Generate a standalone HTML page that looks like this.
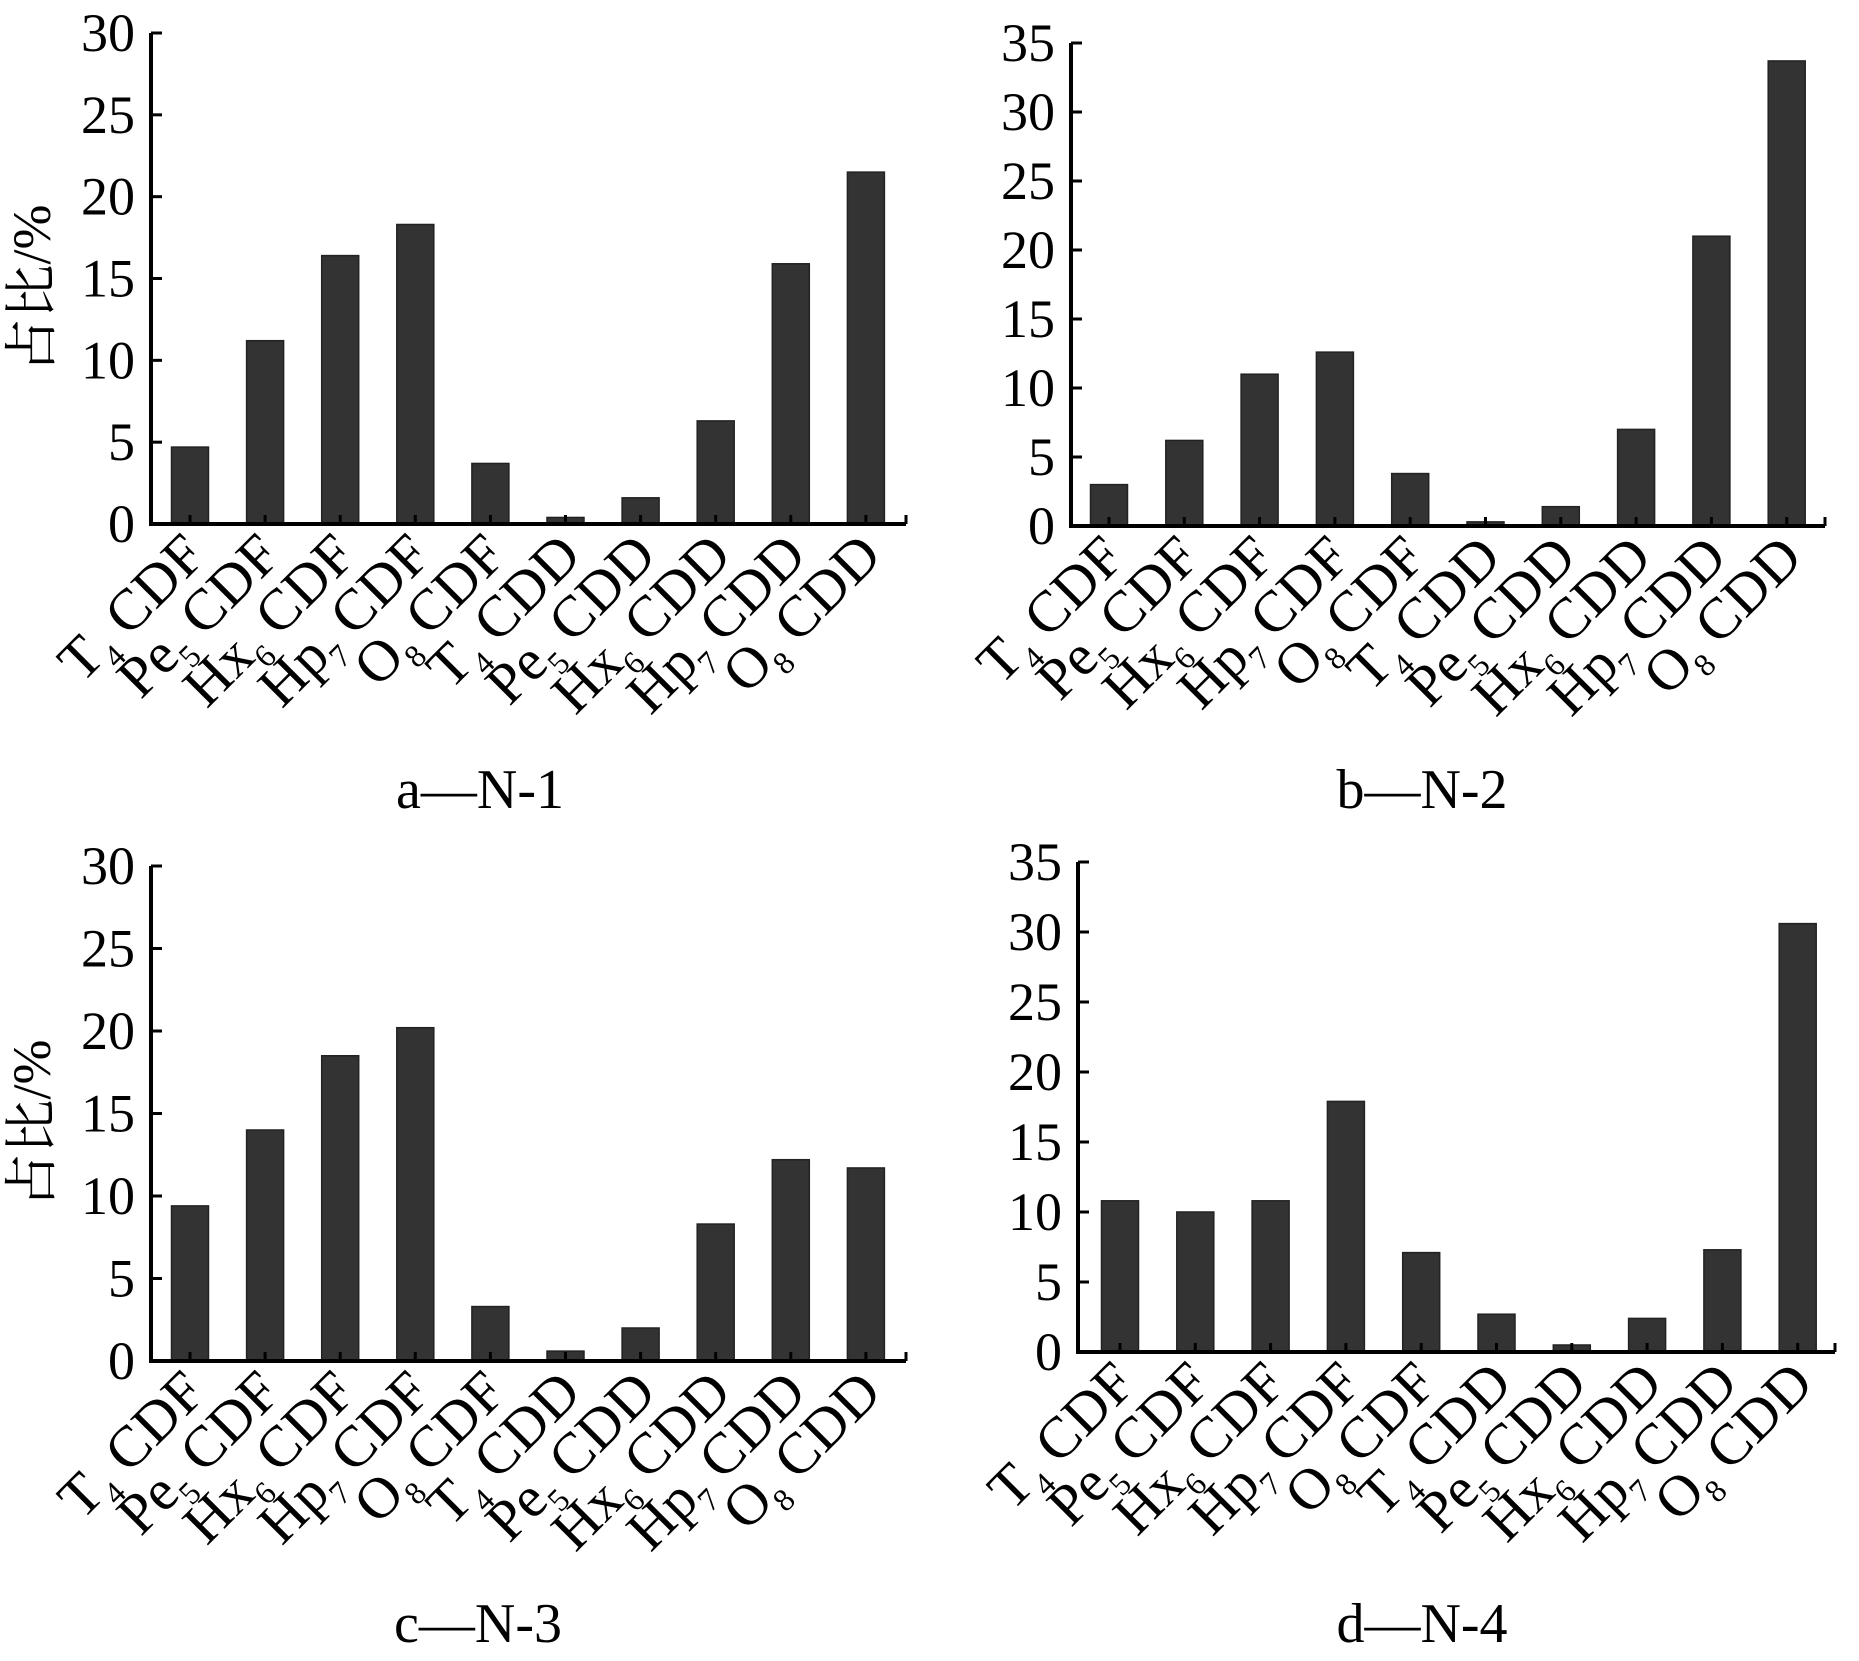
<!DOCTYPE html>
<html><head><meta charset="utf-8"><style>
html,body{margin:0;padding:0;background:#fff;}
svg{display:block;}
text{font-family:"Liberation Serif","Noto Serif CJK SC",serif;fill:#000;}
</style></head><body>
<svg width="1859" height="1661" viewBox="0 0 1859 1661" xmlns="http://www.w3.org/2000/svg">
<g id="all"></g>
<script>
(function(){
var NS="http://www.w3.org/2000/svg";
var root=document.getElementById("all");
function el(t,a,txt){var e=document.createElementNS(NS,t);for(var k in a)e.setAttribute(k,a[k]);if(txt!==undefined)e.textContent=txt;root.appendChild(e);return e;}
var pre=["T","Pe","Hx","Hp","O","T","Pe","Hx","Hp","O"];
var sub=["4","5","6","7","8","4","5","6","7","8"];
var suf=["CDF","CDF","CDF","CDF","CDF","CDD","CDD","CDD","CDD","CDD"];
var panels=[
 {ax:151,y0:524,ymax:30,ytop:33,xend:906,c0:190,dx:75.1,cap:"a\u2014N-1",cx:480,cy:808,ylab:true,
  v:[4.7,11.2,16.4,18.3,3.7,0.4,1.6,6.3,15.9,21.5]},
 {ax:1071,y0:526,ymax:35,ytop:43,xend:1825,c0:1109,dx:75.3,cap:"b\u2014N-2",cx:1422,cy:808,ylab:false,
  v:[3.0,6.2,11.0,12.6,3.8,0.3,1.4,7.0,21.0,33.7]},
 {ax:151,y0:1361,ymax:30,ytop:866,xend:906,c0:190,dx:75.1,cap:"c\u2014N-3",cx:478,cy:1642,ylab:true,
  v:[9.4,14.0,18.5,20.2,3.3,0.6,2.0,8.3,12.2,11.7]},
 {ax:1078,y0:1352,ymax:35,ytop:862,xend:1835,c0:1120,dx:75.3,cap:"d\u2014N-4",cx:1422,cy:1642,ylab:false,
  v:[10.8,10.0,10.8,17.9,7.1,2.7,0.5,2.4,7.3,30.6]}
];
panels.forEach(function(p){
 var k=(p.y0-p.ytop)/p.ymax;
 p.v.forEach(function(v,i){
  var cx=p.c0+p.dx*i,h=v*k;
  el("rect",{x:cx-18.5,y:p.y0-h,width:37,height:h,fill:"#333",stroke:"#222","stroke-width":1.5});
  el("line",{x1:cx,y1:p.y0,x2:cx,y2:p.y0-9,stroke:"#000","stroke-width":3});
  var t=el("text",{"font-size":58,"text-anchor":"end",transform:"translate("+(cx+18)+","+(p.y0+34)+") rotate(-45)"});
  var a=document.createElementNS(NS,"tspan");a.textContent=pre[i];t.appendChild(a);
  var b=document.createElementNS(NS,"tspan");b.setAttribute("font-size","32");b.setAttribute("dy","14");b.textContent=sub[i];t.appendChild(b);
  var c=document.createElementNS(NS,"tspan");c.setAttribute("dy","-14");c.textContent="\u00a0"+suf[i];t.appendChild(c);
 });
 el("line",{x1:p.ax,y1:p.ytop,x2:p.ax,y2:p.y0+2,stroke:"#000","stroke-width":4});
 el("line",{x1:p.ax-2,y1:p.y0,x2:p.xend,y2:p.y0,stroke:"#000","stroke-width":4});
 el("line",{x1:p.xend,y1:p.y0,x2:p.xend,y2:p.y0-9,stroke:"#000","stroke-width":3});
 for(var y=0;y<=p.ymax;y+=5){
  var yy=p.y0-y*k;
  el("line",{x1:p.ax,y1:yy,x2:p.ax+11,y2:yy,stroke:"#000","stroke-width":3});
  el("text",{x:p.ax-16,y:yy+18,"font-size":54,"text-anchor":"end"},String(y));
 }
 if(p.ylab){
  el("text",{x:0,y:0,"font-size":54,"text-anchor":"middle",transform:"translate(50,"+((p.y0+p.ytop)/2+10)+") rotate(-90)"},"占比/%");
 }
 el("text",{x:p.cx,y:p.cy,"font-size":56,"text-anchor":"middle"},p.cap);
});
})();
</script>
</svg>
</body></html>
